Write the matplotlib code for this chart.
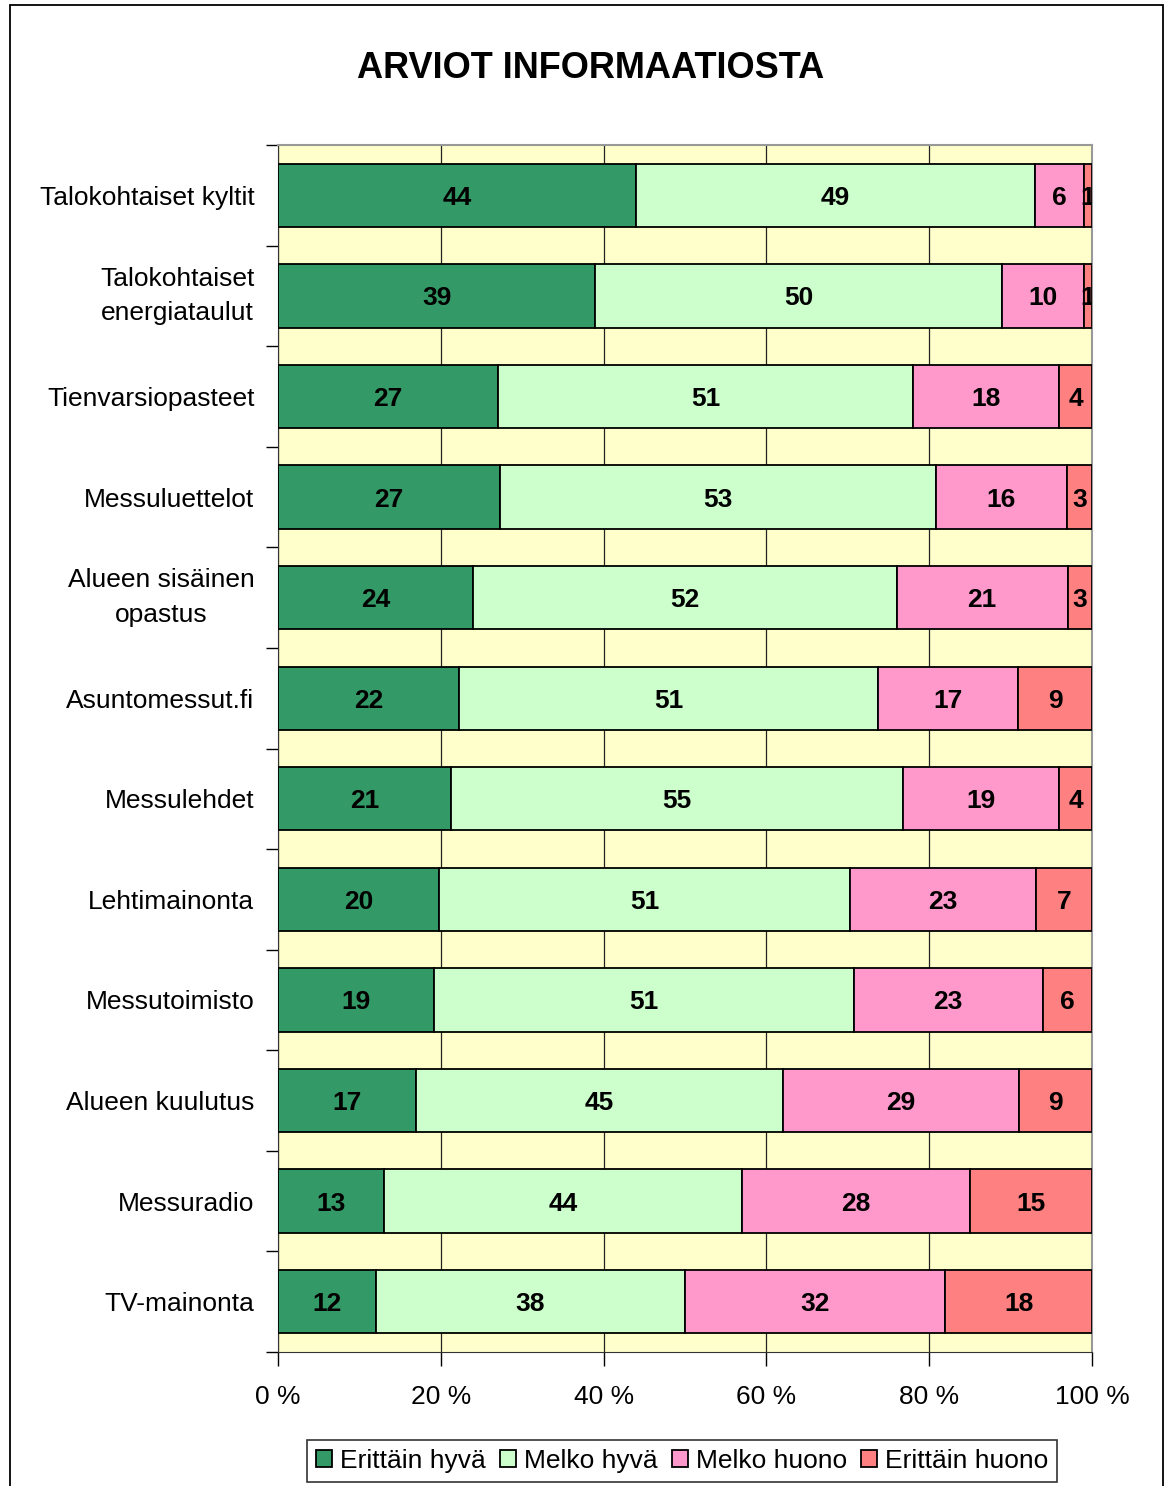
import matplotlib
matplotlib.use("Agg")
import matplotlib.pyplot as plt
import numpy as np
from matplotlib.patches import Rectangle

categories = ["Talokohtaiset kyltit", "Talokohtaiset\nenergiataulut", "Tienvarsiopasteet",
              "Messuluettelot", "Alueen sisäinen\nopastus", "Asuntomessut.fi", "Messulehdet",
              "Lehtimainonta", "Messutoimisto", "Alueen kuulutus", "Messuradio", "TV-mainonta"]
erittain_hyva = [44, 39, 27, 27, 24, 22, 21, 20, 19, 17, 13, 12]
melko_hyva = [49, 50, 51, 53, 52, 51, 55, 51, 51, 45, 44, 38]
melko_huono = [6, 10, 18, 16, 21, 17, 19, 23, 23, 29, 28, 32]
erittain_huono = [1, 1, 4, 3, 3, 9, 4, 7, 6, 9, 15, 18]
series_names = ["Erittäin hyvä", "Melko hyvä", "Melko huono", "Erittäin huono"]
colors = ["#339966", "#CCFFCC", "#FF99CC", "#FF8080"]
xticks = [0, 20, 40, 60, 80, 100]
xticklabels = ["0 %", "20 %", "40 %", "60 %", "80 %", "100 %"]

plt.rcParams['font.family'] = ['Liberation Sans', 'DejaVu Sans']

W, H = 1169, 1486
fig = plt.figure(figsize=(W / 100, H / 100), dpi=100)
fig.patch.set_facecolor("white")

# outer frame
fig.add_artist(Rectangle((10 / W, -0.01), (1163 - 10) / W, 1 - 5 / H + 0.01,
                         transform=fig.transFigure, fill=False, edgecolor="black", lw=1.3))

ax = fig.add_axes([278 / W, 1 - 1352 / H, (1092 - 278) / W, (1352 - 145) / H])
ax.set_facecolor("#FFFFCC")

data = np.array([erittain_hyva, melko_hyva, melko_huono, erittain_huono], dtype=float)
totals = data.sum(axis=0)
pct = data / totals * 100
n = len(categories)
y = np.arange(n)
left = np.zeros(n)
for i in range(4):
    ax.barh(y, pct[i], left=left, height=0.63, color=colors[i], edgecolor="black",
            linewidth=1.3, label=series_names[i], zorder=3)
    for j in range(n):
        ax.text(left[j] + pct[i][j] / 2, y[j], f"{int(data[i][j])}", ha="center",
                va="center_baseline", fontsize=19, fontweight="bold", color="black",
                zorder=4, clip_on=True)
    left += pct[i]

ax.set_xlim(0, 100)
ax.set_ylim(n - 0.5, -0.5)
ax.set_xticks(xticks)
ax.set_xticklabels(xticklabels, fontsize=19)
ax.set_yticks(y)
ax.set_yticklabels(categories, fontsize=19, ha="right", multialignment="center")
ax.tick_params(axis="y", length=0, pad=17)
for lbl in ax.get_yticklabels():
    lbl.set_linespacing(1.55)
    if "\n" in lbl.get_text():
        lbl.set_va("center")
    else:
        lbl.set_va("center_baseline")
ax.set_yticks(np.arange(-0.5, n, 1.0), minor=True)
ax.tick_params(axis="y", which="minor", length=9, width=1, color="black", direction="out")
ax.tick_params(axis="x", length=10, width=1, color="black", direction="out", pad=14)
ax.xaxis.grid(True, color="#222222", lw=0.9, zorder=1)
ax.set_axisbelow(True)
for side in ["top", "right"]:
    ax.spines[side].set_color("#999999")
    ax.spines[side].set_linewidth(1.5)
ax.spines["left"].set_color("#333333")
ax.spines["bottom"].set_color("#333333")

fig.text(0.505, 1 - 68 / H, "ARVIOT INFORMAATIOSTA", ha="center", va="center",
         fontsize=26, fontweight="bold")

leg = fig.legend(loc="center", bbox_to_anchor=(682 / W, 1 - 1461 / H), ncol=4, fontsize=19,
                 frameon=True, fancybox=False, edgecolor="black", handlelength=0.6,
                 handleheight=0.6, handletextpad=0.3, columnspacing=0.55, borderpad=0.35)
leg.get_frame().set_linewidth(1.2)
for h in leg.legend_handles:
    h.set_edgecolor("black")
    h.set_linewidth(1.3)

fig.savefig("out.png", dpi=100, facecolor="white")
